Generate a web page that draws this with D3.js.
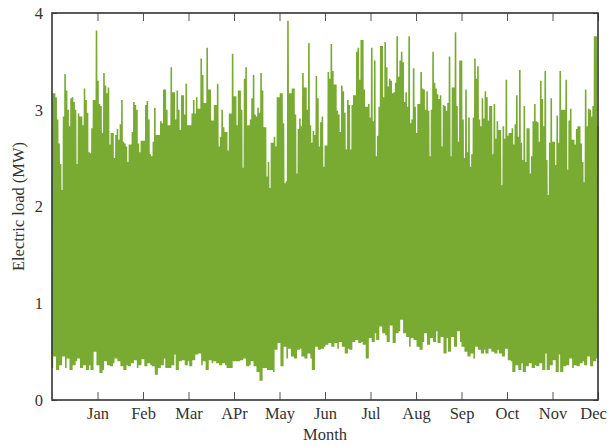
<!DOCTYPE html>
<html>
<head>
<meta charset="utf-8">
<script src="https://cdn.jsdelivr.net/npm/d3@7"></script>
<style>
  body { margin: 0; background: #fff; }
  svg text { font-family: "Liberation Serif", "Times New Roman", serif; fill: #333; }
</style>
</head>
<body>
<div id="chart"></div>
<script>
// month tick labels (ticks sit at the end of each month)
const months = ["Jan", "Feb", "Mar", "APr", "May", "Jun", "Jul", "Aug", "Sep", "Oct", "Nov", "Dec"];
const yTicks = [0, 1, 2, 3, 4];

// daily peak load (MW), one value per day
const dailyPeak = [
  3.17,3.17,3.13,2.9,2.65,2.44,2.17,2.93,3.37,3.2,
  3.0,2.83,3.12,3.13,3.08,3.0,2.44,2.96,2.93,2.93,
  2.84,3.22,3.1,2.97,2.56,2.55,2.81,3.1,3.1,3.82,
  3.3,3.06,3.04,2.76,3.38,3.25,3.17,3.23,2.64,2.76,
  2.76,2.5,2.74,2.8,2.69,2.85,3.1,2.67,2.65,2.62,
  2.46,2.64,2.64,2.77,3.08,3.05,3.0,2.65,2.56,2.68,
  2.68,2.68,3.05,3.09,2.9,2.54,2.52,2.67,3.02,2.74,
  2.74,2.74,2.88,2.86,3.21,3.21,3.0,2.84,2.84,3.44,
  3.18,3.18,2.9,3.2,3.0,2.79,3.15,3.15,2.95,3.27,
  2.84,2.84,2.84,2.96,3.1,2.96,3.13,3.01,3.01,3.53,
  3.36,3.07,3.07,3.64,3.21,3.21,2.89,2.89,3.05,3.05,
  3.27,2.62,2.72,3.0,2.82,2.77,2.77,2.58,2.96,2.96,
  3.58,3.14,3.14,2.84,3.2,3.2,3.0,2.4,3.32,3.44,
  2.84,2.84,2.9,3.12,3.36,2.95,2.93,3.02,2.97,3.38,
  3.2,2.82,2.82,2.31,2.46,2.19,2.66,2.66,2.72,2.62,
  3.13,3.13,3.17,3.17,2.86,2.24,2.26,3.92,3.17,3.17,
  3.22,3.22,2.95,2.34,2.8,2.91,2.83,3.38,3.23,3.23,
  3.0,3.69,2.84,2.66,2.78,2.74,3.35,3.12,2.62,2.87,
  2.93,2.41,2.63,2.63,3.39,3.32,3.68,3.4,3.26,3.26,
  2.99,2.95,2.77,3.25,3.19,2.97,2.59,3.1,3.05,2.59,
  3.05,3.15,3.15,3.6,3.64,3.31,3.72,3.72,3.21,3.03,
  3.03,3.06,2.92,3.64,2.88,3.51,2.52,2.73,3.03,3.66,
  3.66,3.13,3.7,3.44,3.24,3.32,3.3,3.17,3.18,3.28,
  3.76,3.34,3.51,3.6,3.49,3.08,3.18,3.03,3.76,2.86,
  2.9,3.43,3.03,2.76,3.06,3.06,3.39,3.22,3.21,3.0,
  3.19,2.99,2.52,3.0,3.6,3.28,3.22,3.16,3.11,3.15,
  2.62,3.05,3.04,2.99,3.07,3.55,2.52,3.23,3.23,3.8,
  3.04,2.67,3.51,3.51,2.9,2.5,3.21,2.56,2.92,2.41,
  2.54,2.92,3.53,3.32,3.45,2.9,2.83,3.12,2.91,3.19,
  3.13,2.89,3.04,3.04,2.54,3.06,2.7,2.88,2.79,2.79,
  2.22,2.83,2.7,3.31,2.73,2.76,2.76,2.81,2.64,2.85,
  3.15,2.72,3.41,2.66,2.48,3.04,2.46,2.81,2.81,2.34,
  2.52,2.88,3.06,2.88,2.87,2.67,3.3,3.11,2.83,3.4,
  2.48,2.12,2.66,3.12,2.67,2.67,2.43,2.94,2.66,3.4,
  3.0,3.0,3.0,3.31,2.38,2.89,3.01,2.69,2.69,2.64,
  2.8,2.83,2.83,2.65,2.46,2.25,3.21,2.83,3.01,3.0,
  2.93,3.04,3.76,3.76,2.83
];

// low load (MW), read about every 1.8 days across the year
const lowLoad = [
  0.33,0.45,0.31,0.36,0.45,0.33,0.43,0.31,0.36,0.40,
  0.43,0.33,0.36,0.31,0.36,0.31,0.50,0.36,0.28,0.31,
  0.40,0.36,0.35,0.38,0.43,0.40,0.35,0.31,0.36,0.35,
  0.38,0.41,0.33,0.36,0.42,0.35,0.38,0.36,0.35,0.26,
  0.33,0.36,0.43,0.33,0.33,0.36,0.47,0.31,0.40,0.41,
  0.36,0.40,0.35,0.41,0.47,0.48,0.36,0.40,0.31,0.41,
  0.38,0.40,0.38,0.36,0.38,0.36,0.33,0.33,0.40,0.40,
  0.40,0.41,0.43,0.35,0.36,0.40,0.35,0.29,0.20,0.33,
  0.33,0.31,0.31,0.29,0.52,0.59,0.35,0.55,0.43,0.53,
  0.45,0.43,0.52,0.53,0.45,0.43,0.48,0.43,0.31,0.55,
  0.52,0.53,0.55,0.57,
  0.59,0.55,0.59,0.53,0.60,0.55,0.48,0.53,0.52,0.60,
  0.62,0.59,0.60,0.57,0.43,0.64,0.60,0.69,0.62,0.76,
  0.69,0.67,0.60,0.77,0.59,0.69,0.71,0.83,0.69,0.65,
  0.55,0.64,0.62,0.55,0.52,0.60,0.69,0.57,0.64,0.60,
  0.71,0.59,0.65,0.48,0.64,0.50,0.65,0.55,0.71,0.60,
  0.55,0.50,0.45,0.48,0.43,0.55,0.52,0.48,0.52,0.48,
  0.53,0.50,0.48,0.52,0.48,0.45,0.53,0.41,0.40,0.29,
  0.36,0.31,0.38,0.29,0.35,0.38,0.33,0.36,0.35,0.38,
  0.31,0.48,0.31,0.36,0.41,0.29,0.47,0.29,0.35,0.36,
  0.43,0.33,0.36,0.35,0.38,0.40,0.36,0.45,0.35,0.40,
  0.43
];

const W = 609, H = 446;
const margin = { top: 13, right: 11, bottom: 46, left: 52 };
const width = W - margin.left - margin.right,
      height = H - margin.top - margin.bottom;
const fontSize = 16.5;

const svg = d3.select('#chart').append('svg')
  .attr('width', W)
  .attr('height', H);

const g = svg.append('g').attr('transform', `translate(${margin.left},${margin.top})`);

const x = d3.scaleLinear().domain([0, 12]).range([0, width]);
const xDay = d3.scaleLinear().domain([0, dailyPeak.length]).range([0, width]);
const y = d3.scaleLinear().domain([0, 4]).range([height, 0]);

// axes (ticks point inward)
const axisB = g.append('g').attr('transform', `translate(0,${height})`)
  .call(d3.axisBottom(x).tickValues(d3.range(1, 13)).tickFormat((d, i) => months[i])
    .tickSizeInner(-8).tickSizeOuter(0).tickPadding(7));
const axisT = g.append('g')
  .call(d3.axisTop(x).tickValues(d3.range(1, 13)).tickFormat('').tickSizeInner(-8).tickSizeOuter(0));
const axisL = g.append('g')
  .call(d3.axisLeft(y).tickValues(yTicks).tickFormat(d3.format('d'))
    .tickSizeInner(-5).tickSizeOuter(0).tickPadding(9));
const axisR = g.append('g').attr('transform', `translate(${width},0)`)
  .call(d3.axisRight(y).tickValues(yTicks).tickFormat('').tickSizeInner(-5).tickSizeOuter(0));

[axisB, axisT, axisL, axisR].forEach(a => {
  a.select('.domain').remove();
  a.selectAll('.tick line').attr('stroke', '#555').attr('stroke-width', 1);
  a.selectAll('text').attr('font-size', fontSize).attr('fill', '#333');
});
// last month label sits a little left of its tick so it stays on the page
axisB.selectAll('.tick text').filter((d, i) => i === months.length - 1).attr('dx', -5);

// load trace: each day swings from its low to its peak
const pts = [];
dailyPeak.forEach((p, d) => {
  const lo = lowLoad[Math.round(d * (lowLoad.length - 1) / (dailyPeak.length - 1))];
  pts.push([d + 0.25, lo], [d + 0.75, p]);
});

g.append('path')
  .datum(pts)
  .attr('fill', 'none')
  .attr('stroke', '#79aa32')
  .attr('stroke-width', 1.6)
  .attr('stroke-linejoin', 'bevel')
  .attr('d', d3.line().x(d => xDay(d[0])).y(d => y(d[1])));

// frame
g.append('rect')
  .attr('width', width).attr('height', height)
  .attr('fill', 'none').attr('stroke', '#333').attr('stroke-width', 1.6);

// axis titles
svg.append('text')
  .attr('x', margin.left + width / 2).attr('y', 440)
  .attr('text-anchor', 'middle').attr('font-size', fontSize)
  .text('Month');

svg.append('text')
  .attr('transform', `translate(24,${margin.top + height / 2}) rotate(-90)`)
  .attr('text-anchor', 'middle').attr('font-size', fontSize)
  .text('Electric load (MW)');
</script>
</body>
</html>
